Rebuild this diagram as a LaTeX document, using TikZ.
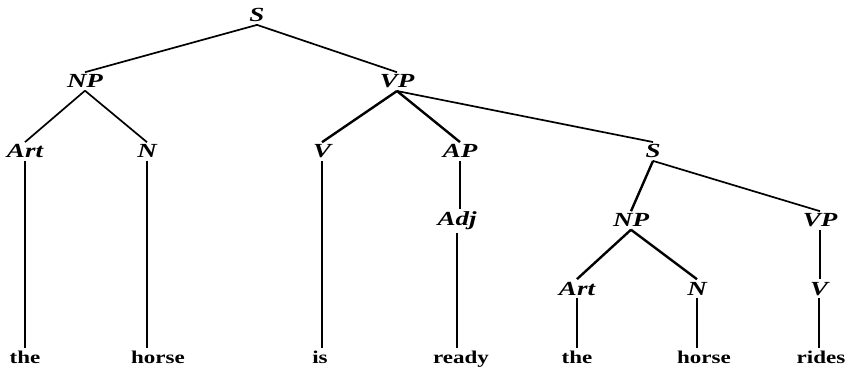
\documentclass[tikz,border=0pt]{standalone}
\usepackage{fontspec}
\newfontfamily\catfont[FakeStretch=1.35]{Liberation Serif}
\newfontfamily\wordfont[FakeStretch=1.28]{Liberation Serif}
\begin{document}
\begin{tikzpicture}[x=1pt,y=-1pt,
  cat/.style={anchor=base, inner sep=2.5pt,
    font=\catfont\fontsize{20}{22}\selectfont\bfseries\itshape},
  word/.style={anchor=base, inner sep=2.5pt,
    font=\wordfont\fontsize{18}{20}\selectfont\bfseries},
  branch/.style={line width=1.7pt},
  heavy/.style={line width=2.4pt},
  stem/.style={line width=2.6pt}]
\useasboundingbox (0,0) rectangle (848,371);

% phrase and category labels
\node[cat] (S)    at (257,22)  {S};
\node[cat] (NP)   at (85,88)   {NP};
\node[cat] (VP)   at (397,88)  {VP};
\node[cat] (Art)  at (25,158)  {Art};
\node[cat] (N)    at (147,158) {N};
\node[cat] (V)    at (322,158) {V};
\node[cat] (AP)   at (460,158) {AP};
\node[cat] (S2)   at (653,158) {S};
\node[cat] (Adj)  at (457,226) {Adj};
\node[cat] (NP2)  at (631,227) {NP};
\node[cat] (VP2)  at (820,227) {VP};
\node[cat] (Art2) at (577,295) {Art};
\node[cat] (N2)   at (697,295) {N};
\node[cat] (V2)   at (819,295) {V};

% terminal words
\node[word] (w1) at (25,363)  {the};
\node[word] (w2) at (158,363) {horse};
\node[word] (w3) at (320,363) {is};
\node[word] (w4) at (461,363) {ready};
\node[word] (w5) at (577,363) {the};
\node[word] (w6) at (704,363) {horse};
\node[word] (w7) at (821,363) {rides};

% branches
\draw[branch] (S.south) -- (NP.north);
\draw[branch] (S.south) -- (VP.north);
\draw[branch] (NP.south) -- (Art.north);
\draw[branch] (NP.south) -- (N.north);
\draw[heavy]  (VP.south) -- (V.north);
\draw[heavy]  (VP.south) -- (AP.north);
\draw[branch] (VP.south) -- (S2.north);
\draw[heavy]  (S2.south) -- (NP2.north);
\draw[branch] (S2.south) -- (VP2.north);
\draw[heavy]  (NP2.south) -- (Art2.north);
\draw[heavy]  (NP2.south) -- (N2.north);

% unary stems
\draw[stem] (AP.south) -- (AP.south |- Adj.north);
\draw[stem] (VP2.south) -- (VP2.south |- V2.north);
\draw[stem] (Art.south) -- (Art.south |- w1.north);
\draw[stem] (N.south) -- (N.south |- w2.north);
\draw[stem] (V.south) -- (V.south |- w3.north);
\draw[stem] (Adj.south) -- (Adj.south |- w4.north);
\draw[stem] (Art2.south) -- (Art2.south |- w5.north);
\draw[stem] (N2.south) -- (N2.south |- w6.north);
\draw[stem] (V2.south) -- (V2.south |- w7.north);
\end{tikzpicture}
\end{document}
